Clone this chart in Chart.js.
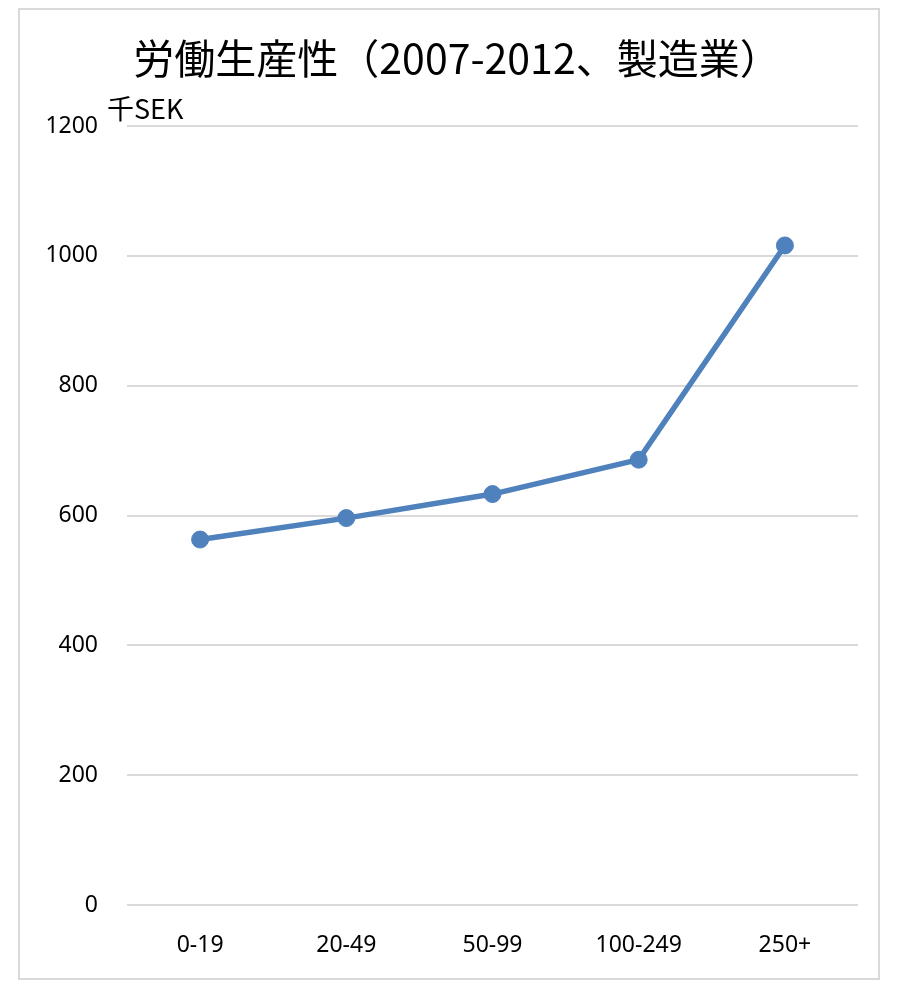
<!DOCTYPE html>
<html>
<head>
<meta charset="utf-8">
<script src="https://cdn.jsdelivr.net/npm/chart.js@4/dist/chart.umd.min.js"></script>
<style>
  html, body { margin: 0; padding: 0; background: #fff; }
  #wrap { position: relative; width: 898px; height: 982px; }
  #frame { position: absolute; left: 18px; top: 8px; width: 858px; height: 968px; border: 2px solid #d9d9d9; pointer-events: none; }
  canvas { position: absolute; left: 0; top: 0; }
</style>
</head>
<body>
<div id="wrap">
  <canvas id="c" width="898" height="982"></canvas>
  <div id="frame"></div>
</div>
<script>
// Labour productivity by firm size class, manufacturing
const titleText = '労働生産性（2007-2012、製造業）';
const unitText = '千SEK';
const sizeClasses = ['0-19', '20-49', '50-99', '100-249', '250+'];
const productivity = [563, 596, 633, 686, 1016];
const yTicks = [0, 200, 400, 600, 800, 1000, 1200];

const CJK = '"Noto Sans CJK JP", "Noto Sans", sans-serif';
const TICK_FONT = '"Noto Sans", "Open Sans", sans-serif';

// Title and unit label drawn above the plot
const headerPlugin = {
  id: 'header',
  afterDraw(chart) {
    const ctx = chart.ctx;
    const area = chart.chartArea;
    ctx.save();
    ctx.fillStyle = '#000';
    ctx.textBaseline = 'middle';
    ctx.textAlign = 'center';
    ctx.font = '41px ' + CJK;
    ctx.fillText(titleText, 457, 58);
    ctx.textAlign = 'left';
    ctx.font = '27px ' + CJK;
    ctx.fillText(unitText, area.left - 20, area.top - 17);
    ctx.restore();
  }
};

new Chart(document.getElementById('c'), {
  type: 'line',
  data: {
    labels: sizeClasses,
    datasets: [{
      data: productivity,
      borderColor: '#4F81BD',
      backgroundColor: '#4F81BD',
      borderWidth: 5.5,
      pointRadius: 8.5,
      pointBorderWidth: 1,
      pointBackgroundColor: '#4F81BD',
      pointBorderColor: '#4F81BD',
      tension: 0,
      fill: false
    }]
  },
  options: {
    responsive: false,
    animation: false,
    devicePixelRatio: 1,
    layout: { padding: { top: 126, right: 40, left: 0, bottom: 0 } },
    plugins: {
      legend: { display: false },
      title: { display: false },
      tooltip: { enabled: false }
    },
    scales: {
      x: {
        offset: true,
        grid: { display: false },
        border: { display: false },
        ticks: {
          color: '#000',
          font: { family: TICK_FONT, size: 23 },
          padding: 19,
          maxRotation: 0
        },
        afterFit(scale) { scale.height = 982 - 905; }
      },
      y: {
        min: 0,
        max: 1200,
        afterBuildTicks(scale) { scale.ticks = yTicks.map(v => ({ value: v })); },
        grid: { color: '#d9d9d9', lineWidth: 2, drawTicks: false },
        border: { display: false },
        ticks: {
          color: '#000',
          font: { family: TICK_FONT, size: 23 },
          padding: 29,
          callback: v => String(v)
        },
        afterFit(scale) { scale.width = 127; }
      }
    }
  },
  plugins: [headerPlugin]
});
</script>
</body>
</html>
